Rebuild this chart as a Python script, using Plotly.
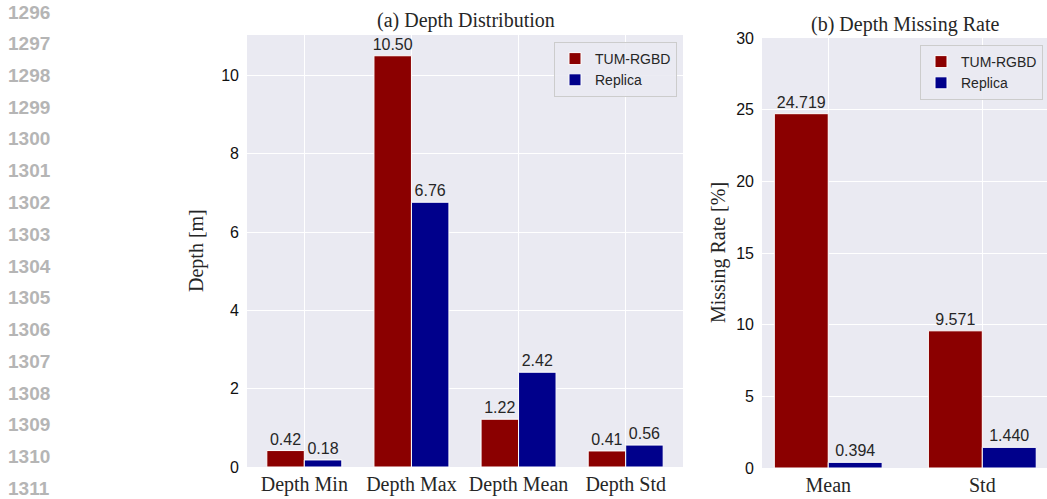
import plotly.graph_objects as go

W, H = 1047, 499

# ---- data ----
dist_categories = ["Depth Min", "Depth Max", "Depth Mean", "Depth Std"]
dist_tum = [0.42, 10.50, 1.22, 0.41]
dist_replica = [0.18, 6.76, 2.42, 0.56]

miss_categories = ["Mean", "Std"]
miss_tum = [24.719, 9.571]
miss_replica = [0.394, 1.440]

series_names = ["TUM-RGBD", "Replica"]
line_numbers = list(range(1296, 1312))

RED = "#8b0000"
BLUE = "#00008b"
BG = "#eaeaf2"
TXT = "#262626"
SERIF = "Liberation Serif, Times New Roman, serif"
SANS = "Liberation Sans, Arial, sans-serif"


def px(x):
    return x / W


def py(y):
    return 1 - y / H


fig = go.Figure()

common_bar = dict(
    textposition="outside",
    constraintext="none",
    cliponaxis=False,
    textfont=dict(family=SANS, size=16, color=TXT),
    marker_line=dict(color="white", width=1),
)

fig.add_trace(go.Bar(x=dist_categories, y=dist_tum, name=series_names[0],
                     marker_color=RED, texttemplate="%{y:.2f}",
                     xaxis="x", yaxis="y", legend="legend", **common_bar))
fig.add_trace(go.Bar(x=dist_categories, y=dist_replica, name=series_names[1],
                     marker_color=BLUE, texttemplate="%{y:.2f}",
                     xaxis="x", yaxis="y", legend="legend", **common_bar))
fig.add_trace(go.Bar(x=miss_categories, y=miss_tum, name=series_names[0],
                     marker_color=RED, texttemplate="%{y:.3f}",
                     xaxis="x2", yaxis="y2", legend="legend2", **common_bar))
fig.add_trace(go.Bar(x=miss_categories, y=miss_replica, name=series_names[1],
                     marker_color=BLUE, texttemplate="%{y:.3f}",
                     xaxis="x2", yaxis="y2", legend="legend2", **common_bar))

xcommon = dict(showgrid=True, gridcolor="white", gridwidth=1, zeroline=False,
               showline=False, ticks="", tickfont=dict(family=SERIF, size=20, color=TXT),
               ticklabelstandoff=3, automargin=False)
ycommon = dict(showgrid=True, gridcolor="white", gridwidth=1, zeroline=False,
               showline=False, ticks="", tickfont=dict(family=SANS, size=16, color="#111"),
               ticklabelstandoff=7, automargin=False)

legcommon = dict(bgcolor="rgba(234,234,242,0.9)", bordercolor="#cccccc", borderwidth=1,
                 font=dict(family=SANS, size=14, color=TXT),
                 xanchor="right", yanchor="top", tracegroupgap=0)


def ann(text, x, y, **kw):
    d = dict(text=text, x=px(x), y=py(y), xref="paper", yref="paper",
             xanchor="center", yanchor="middle", showarrow=False)
    d.update(kw)
    return d


annotations = [
    ann("(a) Depth Distribution", 466, 20, font=dict(family=SERIF, size=20, color=TXT)),
    ann("(b) Depth Missing Rate", 905, 24, font=dict(family=SERIF, size=20, color=TXT)),
    ann("Depth [m]", 197, 251, textangle=-90, font=dict(family=SERIF, size=20, color=TXT)),
    ann("Missing Rate [%]", 719, 253, textangle=-90, font=dict(family=SERIF, size=20, color=TXT)),
]
for i, n in enumerate(line_numbers):
    annotations.append(ann(f"<b>{n}</b>", 6, 12 + i * 31.75, xanchor="left",
                           font=dict(family=SANS, size=19, color="#b5b5b5")))

fig.update_layout(
    width=W, height=H,
    margin=dict(l=0, r=0, t=0, b=0, pad=0, autoexpand=False),
    paper_bgcolor="white",
    plot_bgcolor=BG,
    barmode="group", bargap=0.3, bargroupgap=0,
    xaxis=dict(domain=[px(247), px(683)], anchor="y", range=[-0.535, 3.535], **xcommon),
    yaxis=dict(domain=[py(467), py(35)], anchor="x", range=[0, 11.03],
               tickvals=[0, 2, 4, 6, 8, 10], **ycommon),
    xaxis2=dict(domain=[px(762), 1.0], anchor="y2", range=[-0.43, 1.42], **xcommon),
    yaxis2=dict(domain=[py(468), py(38)], anchor="x2", range=[0, 30],
                tickvals=[0, 5, 10, 15, 20, 25, 30], **ycommon),
    legend=dict(x=px(677), y=py(42), **legcommon),
    legend2=dict(x=px(1043), y=py(45), **legcommon),
    annotations=annotations,
    showlegend=True,
)

fig.write_html("out.html", config={"displayModeBar": False},
               post_script="document.body.style.margin='0';document.body.style.overflow='hidden';")
